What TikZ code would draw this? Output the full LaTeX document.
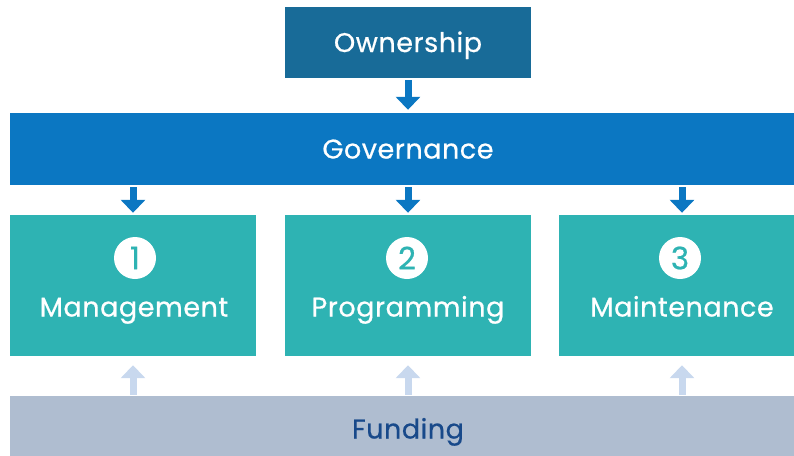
\documentclass[tikz,border=0pt]{standalone}
\usepackage{fontspec}
\setmainfont{Poppins}[LetterSpace=2,FakeBold=0.6]
\usetikzlibrary{arrows.meta}
\definecolor{ownblue}{HTML}{186B98}
\definecolor{govblue}{HTML}{0B77C2}
\definecolor{boxteal}{HTML}{2EB3B3}
\definecolor{fundgray}{HTML}{AFBDD0}
\definecolor{fundtext}{HTML}{18498A}
\definecolor{uparrow}{HTML}{C8D8EE}

\begin{document}
\begin{tikzpicture}[x=1pt,y=-1pt,
    blk/.style={rectangle,inner sep=0pt,text=white,text height=19pt,text depth=0pt,font=\fontsize{27}{30}\selectfont},
    area/.style={rectangle,fill=boxteal,minimum width=246pt,minimum height=141pt},
    num/.style={circle,fill=white,minimum size=42pt,inner sep=0pt,text=boxteal,font=\fontsize{31}{30}\selectfont},
    down/.style={govblue,line width=7pt,-{Triangle[width=24pt,length=13pt]}},
    up/.style={uparrow,line width=7pt,-{Triangle[width=24pt,length=13pt]}}]
    \useasboundingbox (0,0) rectangle (794,455);
    \clip (0,0) rectangle (794,455);
    \node[blk,fill=ownblue,minimum width=246pt,minimum height=71pt] (own) at (408,42.5) {Ownership};
    \node[blk,fill=govblue,minimum width=796pt,minimum height=72pt] (gov) at (408,149) {Governance};
    \node[area] (mgmt) at (133,285.5) {};
    \node[area] (prog) at (408,285.5) {};
    \node[area] (mnt) at (682,285.5) {};
    \node[num] (n1) at (135,258) {1};
    \node[num] (n2) at (407,258) {2};
    \node[num] (n3) at (680,258) {3};
    \node[blk] (t1) at (134,307) {Management};
    \node[blk] (t2) at (408,307) {Programming};
    \node[blk] (t3) at (682,307) {Maintenance};
    \node[area,fill=fundgray,minimum width=796pt,minimum height=74pt] (fund) at (408,433) {};
    \node[blk,text=fundtext] (ft) at (408,429) {Funding};
    \draw[down,shorten <=2pt,shorten >=3pt] (own) -- (gov);
    \draw[down,shorten <=2pt,shorten >=2pt] (mgmt.north |- gov.south) -- (mgmt.north);
    \draw[down,shorten <=2pt,shorten >=2pt] (prog.north |- gov.south) -- (prog.north);
    \draw[down,shorten <=2pt,shorten >=2pt] (mnt.north |- gov.south) -- (mnt.north);
    \draw[up,shorten <=1pt,shorten >=9pt] (mgmt.south |- fund.north) -- (mgmt.south);
    \draw[up,shorten <=1pt,shorten >=9pt] (prog.south |- fund.north) -- (prog.south);
    \draw[up,shorten <=1pt,shorten >=9pt] (mnt.south |- fund.north) -- (mnt.south);
\end{tikzpicture}
\end{document}
